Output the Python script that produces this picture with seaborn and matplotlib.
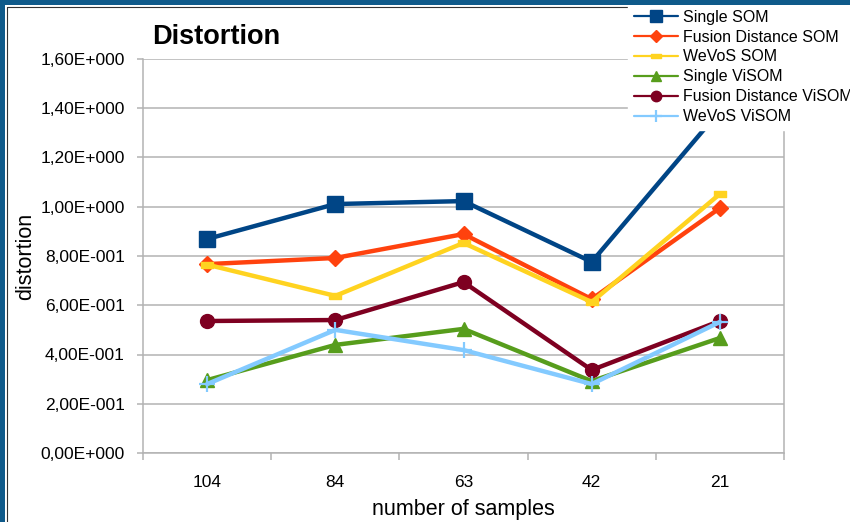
import numpy as np
import pandas as pd
import matplotlib
matplotlib.use("Agg")
import matplotlib.pyplot as plt
from matplotlib.patches import Rectangle
from matplotlib.ticker import FuncFormatter, FixedLocator
import seaborn as sns

# number of samples used in each run
samples = ["104", "84", "63", "42", "21"]

single_som = [0.869, 1.011, 1.023, 0.776, 1.39]
fusion_som = [0.767, 0.792, 0.889, 0.625, 0.995]
wevos_som = [0.765, 0.638, 0.853, 0.613, 1.052]
single_visom = [0.296, 0.439, 0.504, 0.292, 0.467]
fusion_visom = [0.536, 0.540, 0.694, 0.337, 0.536]
wevos_visom = [0.280, 0.500, 0.418, 0.280, 0.532]

series_names = ["Single SOM", "Fusion Distance SOM", "WeVoS SOM",
                "Single ViSOM", "Fusion Distance ViSOM", "WeVoS ViSOM"]
series_values = [single_som, fusion_som, wevos_som,
                 single_visom, fusion_visom, wevos_visom]

colors = ["#004586", "#ff420e", "#ffd320", "#579d1c", "#7e0021", "#83caff"]
bar_marker = [(-1.0, -0.45), (1.0, -0.45), (1.0, 0.45), (-1.0, 0.45), (-1.0, -0.45)]
markers = ["s", "D", bar_marker, "^", "o", "+"]
msizes = [11, 8.5, 9, 10, 10, 11]

sns.set_theme(style="white")
plt.rcParams["font.family"] = ["Liberation Sans", "DejaVu Sans"]
plt.rcParams["text.color"] = "black"
plt.rcParams["axes.labelcolor"] = "black"
plt.rcParams["xtick.labelcolor"] = "black"
plt.rcParams["ytick.labelcolor"] = "black"

fig = plt.figure(figsize=(8.5, 5.22), dpi=100)
ax = fig.add_axes([143 / 850, 1 - 453 / 522, (784 - 143) / 850, (453 - 59) / 522])

pos = np.arange(len(samples))
for name, vals, col, mk, ms in zip(series_names, series_values, colors, markers, msizes):
    df = pd.DataFrame({"x": pos, "y": vals})
    sns.lineplot(data=df, x="x", y="y", ax=ax, color=col, linewidth=3.2,
                 marker=mk, markersize=ms, markeredgecolor=col,
                 markeredgewidth=1.6 if mk == "+" else 1.0, label=name,
                 legend=False, clip_on=False)

ax.set_xlim(-0.5, len(samples) - 0.5)
ax.set_ylim(0, 1.6)
ax.set_yticks(np.arange(0, 1.61, 0.2))


def sci_comma(v, _):
    if abs(v) < 1e-12:
        return "0,00E+000"
    e = int(np.floor(np.log10(abs(v)) + 1e-9))
    m = v / 10 ** e
    sign = "+" if e >= 0 else "-"
    return f"{m:.2f}".replace(".", ",") + f"E{sign}{abs(e):03d}"


ax.yaxis.set_major_formatter(FuncFormatter(sci_comma))
ax.set_xticks(pos)
ax.set_xticklabels(samples)
ax.xaxis.set_minor_locator(FixedLocator(np.arange(-0.5, len(samples), 1.0)))

grid_col = "#b3b3b3"
ax.grid(axis="y", color=grid_col, linewidth=1.1)
ax.grid(axis="x", visible=False)
ax.set_axisbelow(True)
for side in ["left", "bottom", "right"]:
    ax.spines[side].set_visible(True)
    ax.spines[side].set_color(grid_col)
    ax.spines[side].set_linewidth(1.1)
ax.spines["top"].set_visible(False)

ax.tick_params(axis="y", which="major", direction="out", length=4, width=1.1,
               color=grid_col, labelsize=12.5, pad=9, left=True)
ax.tick_params(axis="x", which="major", length=0, labelsize=12.5, pad=16)
ax.tick_params(axis="x", which="minor", direction="out", length=5, width=1.1,
               color=grid_col, bottom=True)

ax.set_xlabel("number of samples", fontsize=15.5, labelpad=6)
ax.set_ylabel("distortion", fontsize=15.5, labelpad=3)

fig.text(152 / 850, 1 - 37 / 522, "Distortion", fontsize=19.5, fontweight="bold",
         ha="left", va="center", color="black")

handles, labels = ax.get_legend_handles_labels()
leg = fig.legend(handles, labels, loc="upper left",
                 bbox_to_anchor=(628 / 850, 1 - 4 / 522), fontsize=11.5,
                 frameon=True, facecolor="white", edgecolor="white", framealpha=1.0,
                 fancybox=False, borderpad=0.35, labelspacing=0.31,
                 handlelength=2.8, handletextpad=0.3, borderaxespad=0)
for ln in leg.get_lines():
    ln.set_linewidth(1.6)
    ln.set_markersize(ln.get_markersize() * 0.75)

# window frame along the top and left edges
frame_col = "#0f5a8a"
fig.patches.append(Rectangle((0, 1 - 5 / 522), 1, 5 / 522, transform=fig.transFigure,
                             facecolor=frame_col, edgecolor="none", zorder=10))
fig.patches.append(Rectangle((0, 0), 5 / 850, 1, transform=fig.transFigure,
                             facecolor=frame_col, edgecolor="none", zorder=10))
fig.add_artist(plt.Line2D([6.5 / 850, 6.5 / 850], [0, 1 - 6.5 / 522],
                          transform=fig.transFigure, color="#333333", linewidth=0.8))
fig.add_artist(plt.Line2D([6.5 / 850, 1], [1 - 6.5 / 522, 1 - 6.5 / 522],
                          transform=fig.transFigure, color="#333333", linewidth=0.8))

fig.savefig("out.png", dpi=100)
